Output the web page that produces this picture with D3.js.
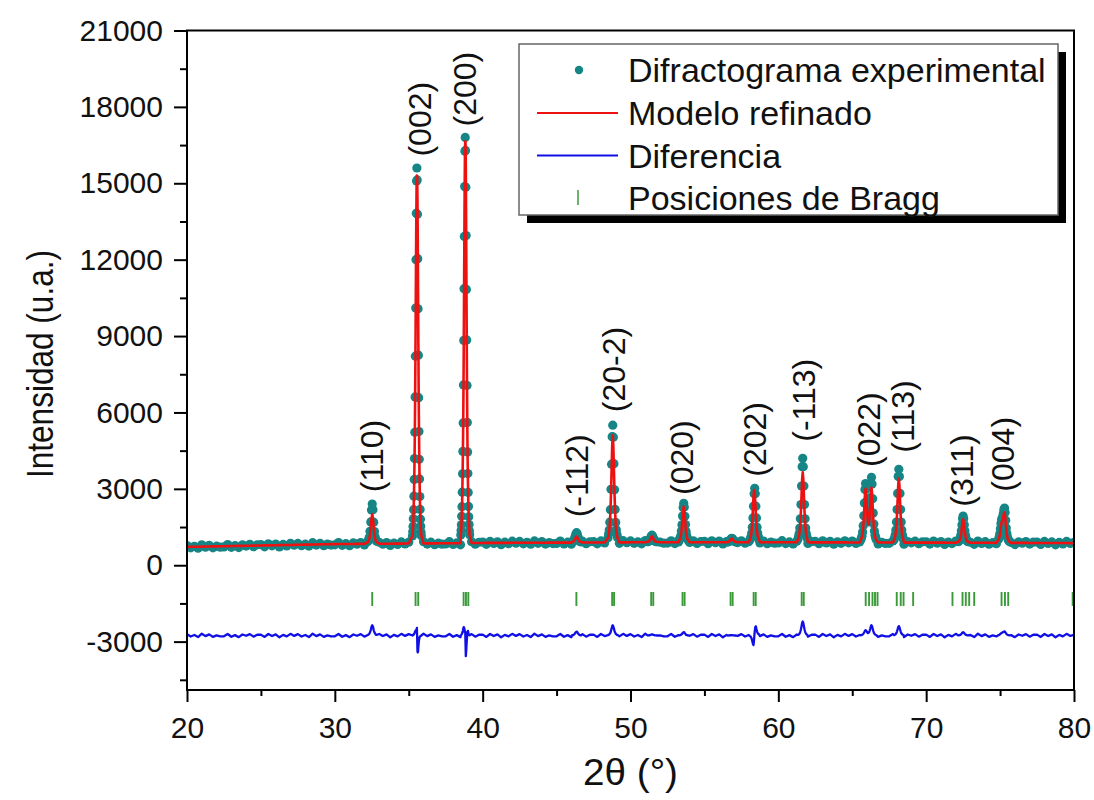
<!DOCTYPE html>
<html><head><meta charset="utf-8">
<script src="https://cdn.jsdelivr.net/npm/d3@7"></script>
<style>body{margin:0;background:#fff} svg{display:block}</style>
</head><body><svg id="chart" width="1094" height="800"></svg>
<script>
// ---------- DATA ----------
// background (2θ = 20 + 0.25*i), observed and calculated intensity
const bgObs = [
775,683,745,668,801,709,781,684,747,710,
718,810,703,771,694,801,754,822,725,802,
810,723,841,763,831,719,817,759,862,785,
858,765,828,751,884,791,864,767,830,792,
800,891,782,848,769,875,827,893,794,870,
876,787,903,824,890,776,873,814,915,836,
907,813,874,795,926,832,904,805,866,827,
833,924,815,881,802,908,860,926,827,903,
910,821,936,857,922,808,904,844,945,865,
936,842,902,823,953,859,930,830,891,851,
857,948,838,904,824,930,881,946,847,922,
928,839,954,875,940,826,922,862,963,884,
955,860,920,840,971,876,946,846,906,866,
871,961,852,917,837,942,892,957,857,932,
937,847,962,883,948,833,928,868,968,888,
958,863,923,843,973,878,948,848,908,868,
873,963,852,917,836,941,891,955,855,929,
934,844,958,878,942,827,922,861,961,880,
950,855,914,834,963,868,938,837,897,856,
861,951,840,905,824,929,879,943,843,918,
923,832,947,866,931,816,910,850,949,869,
938,843,902,822,952,856,926,825,885,844,
849,938,828,892,812,917,866,931,830,905,
909,819,933,853,917,802,897,836,936,855,
900];
const bgCalc = [
720,723,725,728,731,734,736,739,742,745,
748,750,753,756,759,761,764,767,770,772,
775,778,781,783,786,789,792,794,797,800,
803,805,808,811,814,816,819,822,825,827,
830,831,832,833,834,835,837,838,839,840,
841,842,843,844,845,846,848,849,850,851,
852,853,854,855,856,857,859,860,861,862,
863,864,865,866,867,868,870,871,872,873,
875,876,876,877,877,878,879,879,880,880,
881,882,882,883,883,884,885,885,886,886,
887,888,888,889,889,890,891,891,892,892,
893,894,894,895,895,896,897,897,898,899,
900,900,900,900,901,901,901,901,901,901,
901,901,902,902,902,902,902,902,902,902,
902,902,902,903,903,903,903,903,903,903,
903,903,903,903,903,903,903,903,903,903,
903,903,902,902,901,901,901,900,900,899,
899,899,898,898,897,897,897,896,896,895,
895,895,894,894,893,893,893,892,892,891,
891,891,890,890,889,889,889,888,888,888,
888,887,887,886,886,886,885,885,884,884,
883,883,882,882,882,881,881,880,880,879,
879,878,878,877,877,877,876,876,875,875,
874,874,873,873,872,872,872,871,871,870,
870];
// peak regions: first 2θ and step of each region, observed & calculated intensities
const peakStart = [32.23, 35.25, 38.52, 46.05, 48.48, 51.15, 53.28, 56.55, 58.08, 61.33, 65.58, 67.83, 72.18, 74.90];
const peakStep  = [0.05, 0.02, 0.02, 0.05, 0.04, 0.05, 0.04, 0.05, 0.04, 0.04, 0.04, 0.04, 0.04, 0.04];
const peakObs = [
 [930,995,1100,1330,1700,2170,2400,2180,1690,1320,1110,980,940],
 [1150,1310,1520,1830,2180,2710,3370,4190,5220,6610,8210,10100,12000,13820,15090,15600,15130,13780,12040,10070,8250,6580,5250,4160,3390,2700,2190,1810,1530,1300,1160],
 [1190,1360,1590,1920,2300,2870,3590,4470,5590,7080,8830,10860,12910,14870,16260,16800,16290,14840,12950,10830,8850,7060,5610,4450,3600,2860,2310,1900,1600,1350,1200],
 [925,930,965,1010,1115,1220,1280,1230,1105,1020,955,935,915],
 [1080,1230,1380,1690,2180,2980,3970,5050,5500,5030,3990,2960,2190,1680,1390,1220,1090],
 [925,928,955,985,1062,1135,1180,1142,1055,995,948,934,920],
 [970,1008,1070,1160,1340,1585,1935,2270,2430,2285,1920,1598,1325,1170,1060,1015,962],
 [918,917,934,950,995,1034,1060,1040,988,956,928,922,912],
 [988,1051,1125,1263,1496,1856,2321,2808,3020,2808,2321,1856,1496,1263,1125,1051,988],
 [1032,1131,1247,1461,1824,2385,3111,3870,4200,3870,3111,2385,1824,1461,1247,1131,1032],
 [1000,1071,1151,1303,1553,1941,2443,2970,3208,2995,2503,2083,1788,1703,1831,2178,2660,3213,3451,3190,2606,2049,1620,1343,1176,1086,1009],
 [1005,1092,1192,1380,1696,2186,2820,3482,3770,3482,2820,2186,1696,1380,1192,1092,1005],
 [924,956,992,1061,1176,1355,1586,1827,1932,1827,1586,1355,1176,1061,992,956,924],
 [1025,1109,1240,1432,1636,1788,1855,1907,2028,2196,2244,2074,1762,1466,1246,1106,1020,974,934]
];
const peakCalc = [
 [912,950,1037,1200,1484,1826,2000,1826,1484,1200,1037,950,912],
 [1150,1300,1500,1800,2150,2650,3300,4100,5100,6450,8050,9900,11800,13600,14850,15300,15250,14400,12700,10700,8700,6900,5450,4300,3450,2750,2220,1830,1540,1310,1160],
 [1180,1340,1560,1870,2230,2770,3450,4280,5340,6780,8500,10550,12650,14650,16150,16650,16600,15650,13600,11300,9100,7150,5550,4300,3420,2720,2220,1850,1570,1340,1190],
 [911,919,936,968,1025,1093,1127,1093,1025,968,936,919,911],
 [1068,1194,1341,1614,2076,2790,3714,4680,5100,4680,3714,2790,2076,1614,1341,1194,1068],
 [919,927,944,976,1033,1101,1135,1101,1033,976,944,927,919],
 [961,1003,1051,1142,1296,1533,1840,2161,2300,2161,1840,1533,1296,1142,1051,1003,961],
 [914,918,929,948,983,1024,1045,1024,983,948,929,918,914],
 [1010,1090,1200,1400,1720,2180,2700,2950,2880,2480,1960,1600,1330,1165,1068,1000,970],
 [1010,1093,1189,1368,1670,2138,2743,3375,3650,3375,2743,2138,1670,1368,1189,1093,1010],
 [990,1054,1127,1265,1492,1845,2303,2782,2998,2803,2353,1965,1690,1601,1698,1984,2384,2847,3046,2826,2335,1867,1506,1273,1132,1056,991],
 [990,1066,1154,1317,1593,2020,2572,3149,3400,3149,2572,2020,1593,1317,1154,1066,990],
 [919,946,979,1038,1140,1296,1498,1710,1802,1710,1498,1296,1140,1038,979,946,919],
 [1008,1082,1198,1367,1549,1682,1741,1785,1891,2039,2080,1930,1655,1395,1202,1078,1003,962,927]
];
const diffOffset = -2760;
// Bragg reflection positions (2θ)
const braggPos = [32.53,35.46,35.64,38.71,38.87,39.03,46.34,48.76,48.89,51.40,51.54,53.52,53.66,56.77,56.91,58.33,58.47,61.58,61.72,65.91,66.14,66.37,66.54,66.71,68.01,68.28,68.47,69.12,71.78,72.46,72.68,72.91,73.25,75.10,75.33,75.55,79.91];
const braggRange = [-1600, -1050];
// peak labels
const peakLabels = ["(110)","(002)","(200)","(-112)","(20-2)","(020)","(202)","(-113)","(022)","(113)","(311)","(004)"];
const labelTheta = [32.53, 35.76, 38.82, 46.38, 48.84, 53.47, 58.42, 61.70, 66.10, 68.42, 72.42, 75.18];
const labelBase  = [2870, 16050, 17230, 1880, 6010, 2757, 3476, 4850, 3860, 4420, 2300, 2890];
// axes
const xTicks = [20,30,40,50,60,70,80];
const xMinor = [25,35,45,55,65,75];
const yTicks = [-3000,0,3000,6000,9000,12000,15000,18000,21000];
const yMinor = [-4500,-1500,1500,4500,7500,10500,13500,16500,19500];
const legendLabels = ["Difractograma experimental","Modelo refinado","Diferencia","Posiciones de Bragg"];

// ---------- CHART ----------
const svg = d3.select("#chart");
const L = 187, R = 1074, T = 30.5, B = 690;
const x = d3.scaleLinear().domain([20, 80]).range([L, R]);
const y = d3.scaleLinear().domain([-4900, 21000]).range([B, T]);
const FONT = "'Liberation Sans', Arial, sans-serif";
const NARROW = "'Liberation Sans Narrow', 'Arial Narrow', 'Liberation Sans', Arial, sans-serif";
const C_OBS = "#168585", C_CALC = "#ee1111", C_DIFF = "#1010e6", C_BRAGG = "#3a9a3a";

// merge background and peak regions
const pts = [];
const peakTheta = peakStart.map((s, p) => peakObs[p].map((_, i) => +(s + peakStep[p] * i).toFixed(4)));
const windows = peakTheta.map(a => [a[0] - 1e-6, a[a.length - 1] + 1e-6]);
bgObs.forEach((o, i) => {
  const t = 20 + 0.25 * i;
  if (!windows.some(w => t >= w[0] && t <= w[1])) pts.push({t, obs: o, calc: bgCalc[i]});
});
peakTheta.forEach((arr, p) => arr.forEach((t, i) => pts.push({t, obs: peakObs[p][i], calc: peakCalc[p][i]})));
pts.sort((a, b) => a.t - b.t);

svg.append("defs").append("clipPath").attr("id", "clip")
  .append("rect").attr("x", L).attr("y", T).attr("width", R - L).attr("height", B - T);
const plot = svg.append("g").attr("clip-path", "url(#clip)");

// difference
plot.append("path").datum(pts)
  .attr("fill", "none").attr("stroke", C_DIFF).attr("stroke-width", 2.3).attr("stroke-linejoin", "round")
  .attr("d", d3.line().x(d => x(d.t)).y(d => y(d.obs - d.calc + diffOffset)));
// Bragg
plot.append("g").selectAll("line").data(braggPos).join("line")
  .attr("x1", d => x(d)).attr("x2", d => x(d))
  .attr("y1", y(braggRange[0])).attr("y2", y(braggRange[1]))
  .attr("stroke", C_BRAGG).attr("stroke-width", 1.9);
// observed
plot.append("g").selectAll("circle").data(pts).join("circle")
  .attr("cx", d => x(d.t)).attr("cy", d => y(d.obs)).attr("r", 4.6).attr("fill", C_OBS);
// calculated
plot.append("path").datum(pts)
  .attr("fill", "none").attr("stroke", C_CALC).attr("stroke-width", 2.6).attr("stroke-linejoin", "round")
  .attr("d", d3.line().x(d => x(d.t)).y(d => y(d.calc)));

// peak labels
svg.append("g").selectAll("text").data(peakLabels).join("text")
  .attr("transform", (d, i) => `translate(${x(labelTheta[i])},${y(labelBase[i])}) rotate(-90)`)
  .attr("dy", "0.35em").attr("text-anchor", "start")
  .attr("font-family", FONT).attr("font-size", 32).attr("fill", "#111")
  .text(d => d);

// axes
const axStyle = g => {
  g.select(".domain").remove();
  g.selectAll(".tick line").attr("stroke", "#000").attr("stroke-width", 2);
  g.selectAll(".tick text").attr("font-family", FONT).attr("font-size", 30).attr("fill", "#111");
};
svg.append("g").attr("transform", `translate(0,${B})`)
  .call(d3.axisBottom(x).tickValues(xTicks).tickSize(12).tickPadding(15).tickFormat(d => String(d))).call(axStyle);
svg.append("g").attr("transform", `translate(0,${B})`)
  .call(d3.axisBottom(x).tickValues(xMinor).tickSize(6).tickFormat("")).call(axStyle);
svg.append("g").attr("transform", `translate(${L},0)`)
  .call(d3.axisLeft(y).tickValues(yTicks).tickSize(13).tickPadding(11).tickFormat(d => String(d))).call(axStyle);
svg.append("g").attr("transform", `translate(${L},0)`)
  .call(d3.axisLeft(y).tickValues(yMinor).tickSize(7).tickFormat("")).call(axStyle);
svg.append("rect").attr("x", L).attr("y", T).attr("width", R - L).attr("height", B - T)
  .attr("fill", "none").attr("stroke", "#000").attr("stroke-width", 2);

// axis titles
svg.append("text").attr("transform", "translate(40,364) rotate(-90)")
  .attr("text-anchor", "middle").attr("dy", "0.35em")
  .attr("font-family", NARROW).attr("font-size", 37).attr("fill", "#111")
  .attr("textLength", 228).attr("lengthAdjust", "spacingAndGlyphs")
  .text("Intensidad (u.a.)");
svg.append("text").attr("x", (L + R) / 2).attr("y", 772)
  .attr("text-anchor", "middle").attr("dy", "0.35em")
  .attr("font-family", NARROW).attr("font-size", 37).attr("fill", "#111")
  .attr("textLength", 95).attr("lengthAdjust", "spacingAndGlyphs")
  .text("2θ (°)");

// legend
const lg = svg.append("g");
const LX = 519, LY = 44, LW = 539, LH = 171;
lg.append("rect").attr("x", LX + 8).attr("y", LY + 8).attr("width", LW).attr("height", LH).attr("fill", "#000");
lg.append("rect").attr("x", LX).attr("y", LY).attr("width", LW).attr("height", LH)
  .attr("fill", "#fff").attr("stroke", "#666").attr("stroke-width", 1.5);
const rowY = [70, 113, 155.5, 198];
lg.append("circle").attr("cx", 579).attr("cy", rowY[0]).attr("r", 4.2).attr("fill", C_OBS);
lg.append("line").attr("x1", 537).attr("x2", 618).attr("y1", rowY[1]).attr("y2", rowY[1]).attr("stroke", C_CALC).attr("stroke-width", 2);
lg.append("line").attr("x1", 537).attr("x2", 618).attr("y1", rowY[2]).attr("y2", rowY[2]).attr("stroke", C_DIFF).attr("stroke-width", 2);
lg.append("line").attr("x1", 578).attr("x2", 578).attr("y1", rowY[3] - 8).attr("y2", rowY[3] + 7).attr("stroke", C_BRAGG).attr("stroke-width", 1.5);
lg.selectAll("text.lab").data(legendLabels).join("text").attr("class", "lab")
  .attr("x", 628).attr("y", (d, i) => rowY[i] + 12)
  .attr("font-family", FONT).attr("font-size", 34).attr("fill", "#111")
  .text(d => d);
</script>
</body></html>
